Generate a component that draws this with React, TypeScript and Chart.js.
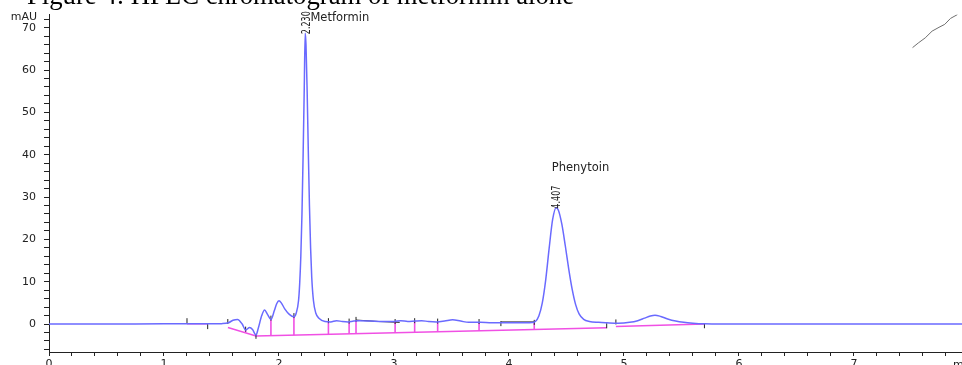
import React, { useEffect, useRef } from 'react';
import { Chart, registerables } from 'chart.js';

Chart.register(...registerables);

// ---------- text ----------
const TITLE = 'Figure 4: HPLC chromatogram of metformin alone';
const Y_UNIT = 'mAU';
const X_UNIT = 'min';

// ---------- axes ----------
const X_MIN = 0;
const X_MAX = 7.94;
const Y_MIN = -6.6;
const Y_MAX = 73.1;
const xMinorStep = 0.2;
const yMinorStep = 2;
const xTickLabels = ['0', '1', '2', '3', '4', '5', '6', '7'];
const yTickLabels = ['0', '10', '20', '30', '40', '50', '60', '70'];

// ---------- detector signal (time min, mAU) ----------
const signalTrace: [number, number][] = [
  [0, 0], [0.5, 0], [1.0, 0.05], [1.2, 0.05], [1.4, 0.05], [1.5, 0.1],
  [1.56, 0.3], [1.60, 0.9], [1.64, 1.1], [1.68, 0.0], [1.71, -1.4], [1.745, -0.8],
  [1.77, -1.3], [1.80, -2.6], [1.82, -1.0], [1.85, 2.0], [1.875, 3.3], [1.90, 2.3],
  [1.93, 1.1], [1.96, 3.2], [1.98, 4.8], [2.00, 5.5], [2.02, 5.0], [2.05, 3.6],
  [2.09, 2.3], [2.13, 1.7], [2.15, 2.6], [2.17, 5.5], [2.18, 9.5], [2.19, 16],
  [2.20, 26], [2.21, 40], [2.22, 56], [2.228, 68.7], [2.235, 66], [2.245, 55],
  [2.255, 41], [2.265, 28], [2.275, 18], [2.285, 11], [2.30, 5.5], [2.32, 2.6],
  [2.35, 1.3], [2.40, 0.6], [2.45, 0.5], [2.50, 0.8], [2.55, 0.6], [2.60, 0.5],
  [2.65, 0.7], [2.70, 0.8], [2.80, 0.7], [2.90, 0.6], [3.00, 0.6], [3.06, 0.8],
  [3.12, 0.6], [3.18, 0.7], [3.24, 0.8], [3.30, 0.6], [3.37, 0.5], [3.44, 0.7],
  [3.51, 1.0], [3.58, 0.7], [3.65, 0.4], [3.75, 0.4], [3.85, 0.3], [3.95, 0.3],
  [4.05, 0.3], [4.15, 0.3], [4.20, 0.35], [4.23, 0.6], [4.26, 1.9], [4.29, 5.0],
  [4.32, 10.5], [4.35, 18], [4.38, 24.7], [4.41, 27.5], [4.43, 26.9], [4.46, 23.6],
  [4.49, 18.5], [4.52, 13.0], [4.55, 8.2], [4.58, 4.6], [4.61, 2.4], [4.65, 1.1],
  [4.70, 0.6], [4.78, 0.4], [4.85, 0.3], [4.95, 0.2], [5.05, 0.4], [5.12, 0.8],
  [5.18, 1.4], [5.23, 1.9], [5.27, 2.1], [5.32, 1.8], [5.38, 1.2], [5.45, 0.7],
  [5.52, 0.4], [5.60, 0.2], [5.70, 0.05], [5.85, 0], [6.2, 0], [6.6, 0],
  [7.0, 0], [7.5, 0], [7.94, 0],
];

// ---------- peaks ----------
const peakTimes = [2.230, 4.407];
const peakApex = [68.7, 27.5];
const peakNames = ['Metformin', 'Phenytoin'];
const peakRtLabels = ['2.230', '4.407'];

// ---------- integration events ----------
const baselineSegments: [number, number][][] = [
  [[1.20, 0.05], [1.38, 0.05]],
  [[1.556, -0.8], [1.80, -2.8], [4.22, -1.3], [4.85, -0.9]],
  [[4.93, -0.6], [5.70, 0.0]],
];
// [time, baseline value, signal value]
const dropLines: [number, number, number][] = [
  [1.71, -2.0, -1.4], [1.93, -2.75, 1.1], [2.13, -2.65, 1.7], [2.43, -2.4, 0.6],
  [2.61, -2.3, 0.5], [2.67, -2.25, 0.95], [3.01, -2.05, 0.6], [3.18, -1.95, 0.7],
  [3.38, -1.85, 0.5], [3.74, -1.6, 0.4], [4.22, -1.3, 0.4],
];
const blackBaselines: [number, number][][] = [
  [[2.67, 0.95], [2.87, 0.6], [3.05, 0.4]],
  [[3.93, 0.5], [4.22, 0.5]],
];
const eventMarks: [number, number][] = [
  [1.20, 0.8], [1.38, -0.6], [1.555, 0.6], [1.71, -1.2], [1.80, -2.9], [1.93, 1.4],
  [2.13, 2.0], [2.43, 0.8], [2.61, 0.7], [2.67, 1.1], [3.01, 0.6], [3.18, 0.8],
  [3.38, 0.7], [3.74, 0.6], [3.93, 0.1], [4.22, 0.4], [4.85, -0.4], [4.93, 0.5],
  [5.70, -0.4],
];
const artifactStroke: [number, number][] = [
  [7.51, 65.3], [7.56, 66.4], [7.62, 67.6], [7.68, 69.2], [7.74, 70.1],
  [7.79, 70.8], [7.84, 72.2], [7.90, 73.1],
];

// ---------- styling ----------
const BLUE = '#6a6aff';
const PINK = '#f050e4';
const INK = '#222222';
const FONT = '"DejaVu Sans", "Noto Sans", sans-serif';
const labelOffsets = [
  { nameDx: 5, nameDy: -15 },
  { nameDx: -4, nameDy: -40 },
];

const toXY = (pts: [number, number][]) => pts.map(([x, y]) => ({ x, y }));
const joinSegments = (segs: [number, number][][]) => {
  const out: { x: number; y: number | null }[] = [];
  segs.forEach((s) => {
    s.forEach(([x, y]) => out.push({ x, y }));
    out.push({ x: s[s.length - 1][0], y: null });
  });
  return out;
};

const extrasPlugin = {
  id: 'extras',
  afterDatasetsDraw(chart: any) {
    const { ctx, scales, chartArea } = chart;
    const xs = scales.x;
    const ys = scales.y;
    ctx.save();
    peakTimes.forEach((t, i) => {
      const px = xs.getPixelForValue(t);
      const py = ys.getPixelForValue(peakApex[i]);
      ctx.save();
      ctx.translate(px + 1, py + 1);
      ctx.rotate(-Math.PI / 2);
      ctx.font = `12px ${FONT}`;
      const w = ctx.measureText(peakRtLabels[i]).width;
      ctx.scale(23 / w, 1);
      ctx.fillStyle = INK;
      ctx.textAlign = 'left';
      ctx.textBaseline = 'middle';
      ctx.fillText(peakRtLabels[i], 0, 0);
      ctx.restore();

      ctx.font = `11.5px ${FONT}`;
      ctx.fillStyle = INK;
      ctx.textAlign = 'left';
      ctx.textBaseline = 'middle';
      ctx.fillText(peakNames[i], px + labelOffsets[i].nameDx, py + labelOffsets[i].nameDy);
    });
    ctx.font = `11px ${FONT}`;
    ctx.fillStyle = INK;
    ctx.textAlign = 'right';
    ctx.textBaseline = 'middle';
    ctx.fillText(Y_UNIT, chartArea.left - 12, ys.getPixelForValue(70) - 11);
    ctx.textAlign = 'left';
    ctx.fillText(X_UNIT, xs.right - 9, xs.top + 13);
    ctx.restore();
  },
};

export default function App() {
  const ref = useRef<HTMLCanvasElement | null>(null);

  useEffect(() => {
    if (!ref.current) return;
    const dropData: { x: number; y: number | null }[] = [];
    dropLines.forEach(([t, b, s]) => {
      dropData.push({ x: t, y: b }, { x: t, y: s }, { x: t, y: null });
    });

    const chart = new Chart(ref.current, {
      type: 'line',
      data: {
        datasets: [
          {
            label: 'signal',
            data: toXY(signalTrace),
            borderColor: BLUE,
            borderWidth: 1.5,
            pointRadius: 0,
            cubicInterpolationMode: 'monotone',
            order: 0,
          },
          {
            label: 'baseline',
            data: joinSegments(baselineSegments),
            borderColor: PINK,
            borderWidth: 1.5,
            pointRadius: 0,
            spanGaps: false,
            order: 3,
          },
          {
            label: 'drops',
            data: dropData,
            borderColor: PINK,
            borderWidth: 1.6,
            pointRadius: 0,
            spanGaps: false,
            order: 2,
          },
          {
            label: 'blackBase',
            data: joinSegments(blackBaselines),
            borderColor: INK,
            borderWidth: 1,
            pointRadius: 0,
            spanGaps: false,
            order: 4,
          },
          {
            label: 'marks',
            data: toXY(eventMarks),
            showLine: false,
            pointStyle: 'line',
            pointRotation: 90,
            pointRadius: 2.5,
            pointBorderColor: INK,
            pointBorderWidth: 1,
            order: 1,
          },
          {
            label: 'artifact',
            data: toXY(artifactStroke),
            borderColor: '#6f6f6f',
            borderWidth: 1,
            pointRadius: 0,
            order: 5,
          },
        ],
      } as any,
      options: {
        animation: false,
        responsive: false,
        devicePixelRatio: 1,
        layout: { padding: { top: 12, left: 0, right: 0, bottom: 0 } },
        plugins: { legend: { display: false }, tooltip: { enabled: false }, title: { display: false } },
        scales: {
          x: {
            type: 'linear',
            min: X_MIN,
            max: X_MAX,
            afterBuildTicks: (s: any) => {
              const ticks = [];
              for (let k = 0; k * xMinorStep <= X_MAX; k++) ticks.push({ value: k * xMinorStep });
              s.ticks = ticks;
            },
            afterFit: (s: any) => { s.height = 23; },
            ticks: {
              autoSkip: false,
              maxRotation: 0,
              padding: 2,
              color: INK,
              font: { family: FONT, size: 11 },
              callback: (v: any) => {
                const r = Math.round(Number(v));
                return Math.abs(Number(v) - r) < 1e-6 ? xTickLabels[r] ?? '' : '';
              },
            },
            grid: { drawOnChartArea: false, drawTicks: true, tickLength: 4, color: INK },
            border: { display: true, color: INK, width: 1 },
          },
          y: {
            type: 'linear',
            min: Y_MIN,
            max: Y_MAX,
            afterBuildTicks: (s: any) => {
              const ticks = [];
              for (let v = -6; v <= Y_MAX; v += yMinorStep) ticks.push({ value: v });
              s.ticks = ticks;
            },
            afterFit: (s: any) => { s.width = 49; },
            ticks: {
              autoSkip: false,
              padding: 8,
              color: INK,
              font: { family: FONT, size: 11 },
              callback: (v: any) => {
                const n = Number(v);
                if (n < 0 || n % 10 !== 0) return '';
                return yTickLabels[n / 10] ?? '';
              },
            },
            grid: { drawOnChartArea: false, drawTicks: true, tickLength: 5, color: INK },
            border: { display: true, color: INK, width: 1 },
          },
        },
      } as any,
      plugins: [extrasPlugin],
    });
    return () => chart.destroy();
  }, []);

  return (
    <div
      style={{
        position: 'fixed',
        left: 0,
        top: 0,
        width: 962,
        height: 365,
        overflow: 'hidden',
        background: '#ffffff',
      }}
    >
      <canvas ref={ref} width={967} height={375} style={{ position: 'absolute', left: 0, top: 0, width: 967, height: 375 }} />
      <div
        style={{
          position: 'absolute',
          left: 27,
          top: -18,
          fontFamily: '"Liberation Serif", "Times New Roman", serif',
          fontSize: 26.7,
          lineHeight: 1,
          whiteSpace: 'nowrap',
          color: '#000',
        }}
      >
        {TITLE}
      </div>
    </div>
  );
}
